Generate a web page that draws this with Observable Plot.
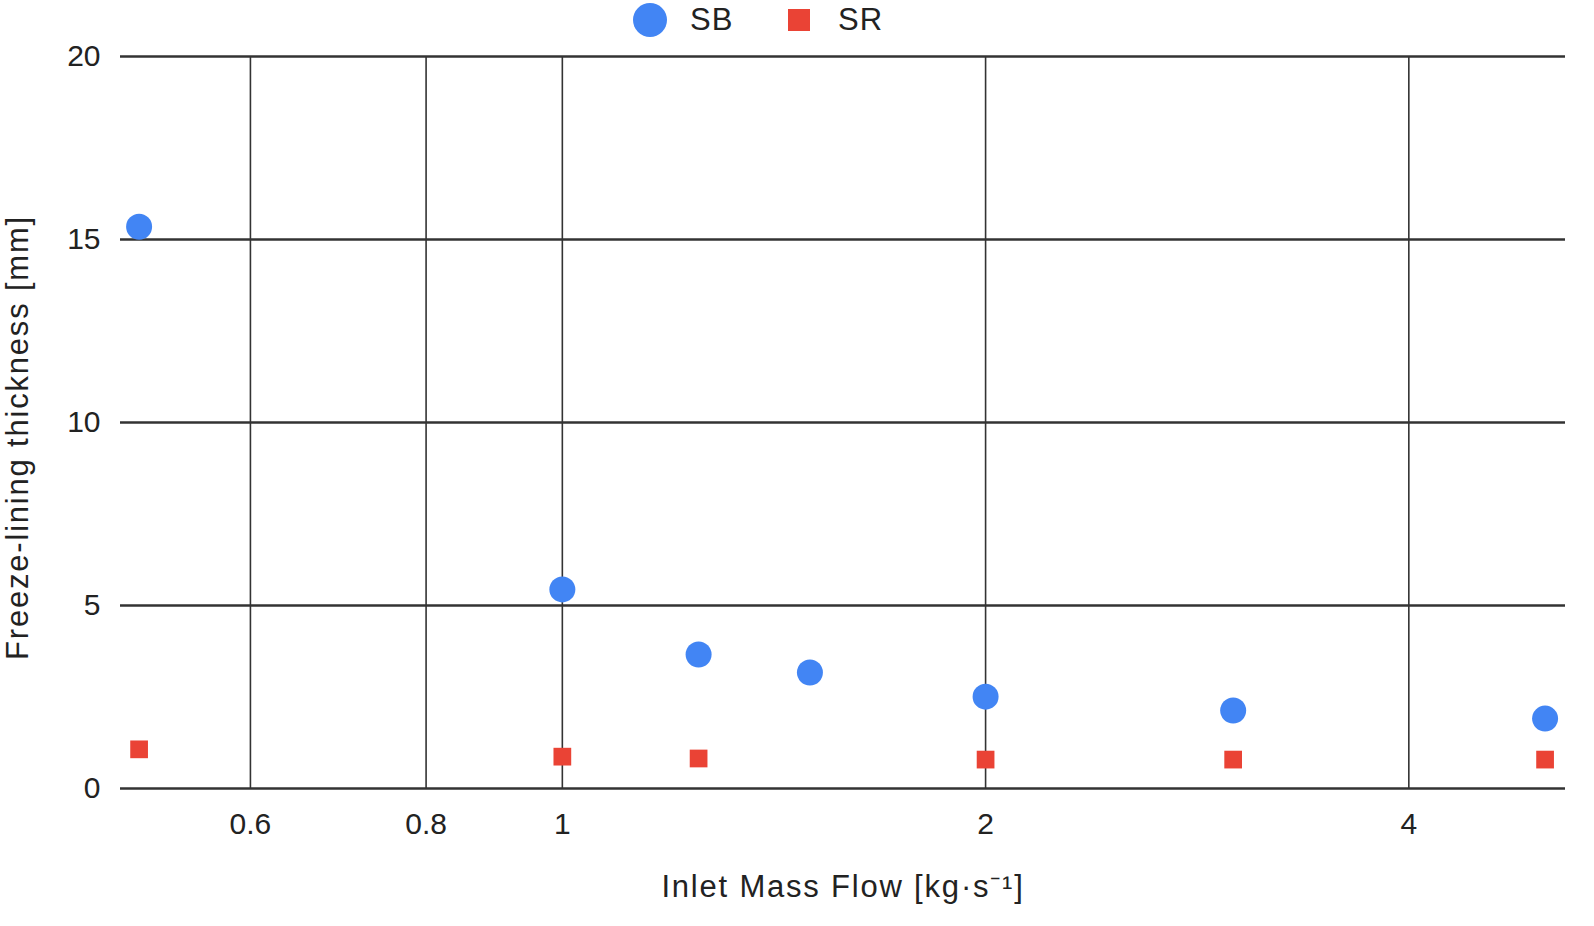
<!DOCTYPE html>
<html>
<head>
<meta charset="utf-8">
<script src="https://cdn.jsdelivr.net/npm/d3@7"></script>
<script src="https://cdn.jsdelivr.net/npm/@observablehq/plot@0.6"></script>
<style>
  html, body { margin: 0; padding: 0; background: #fff; overflow: hidden; font-family: "Liberation Sans", Arial, sans-serif; }
  #legend { height: 40px; position: relative; font-size: 31px; color: #222; letter-spacing: 1px; }
  .item { position: absolute; top: 0; height: 40px; display: flex; align-items: center; }
  .sw { display: inline-block; }
  #chart svg { display: block; }
</style>
</head>
<body>
<div id="legend">
  <div class="item" style="left:633px"><span class="sw" style="width:34px;height:34px;border-radius:50%;background:#4285F4;margin-right:23px"></span>SB</div>
  <div class="item" style="left:788px"><span class="sw" style="width:22px;height:22px;background:#EA4335;margin-right:28px"></span>SR</div>
</div>
<div id="chart"></div>
<script>
const flow = [0.5, 1, 1.25, 1.5, 2, 3, 5];
const sbValues = [15.35, 5.44, 3.66, 3.17, 2.51, 2.13, 1.91];
const srFlow = [0.5, 1, 1.25, 2, 3, 5];
const srValues = [1.07, 0.87, 0.82, 0.79, 0.79, 0.79];
const xTicks = [0.6, 0.8, 1, 2, 4];
const yTicks = [0, 5, 10, 15, 20];
const yTitle = "Freeze-lining thickness [mm]";
const xTitle = "Inlet Mass Flow [kg·s⁻¹]";

const sb = flow.map((x, i) => ({x, y: sbValues[i]}));
const sr = srFlow.map((x, i) => ({x, y: srValues[i]}));

const chart = Plot.plot({
  width: 1594,
  height: 886,
  marginLeft: 120,
  marginRight: 29,
  marginTop: 16,
  marginBottom: 138,
  style: {fontFamily: "'Liberation Sans', Arial, sans-serif", fontSize: "30px", color: "#222", background: "#fff"},
  x: {type: "log", domain: [0.485, 5.17]},
  y: {domain: [0, 20]},
  marks: [
    Plot.ruleX(xTicks, {stroke: "#333", strokeWidth: 1.6}),
    Plot.ruleY(yTicks, {stroke: "#333", strokeWidth: 2.4}),
    Plot.axisY({ticks: yTicks, tickSize: 0, tickPadding: 20, fontSize: 30, label: null}),
    Plot.axisX({ticks: xTicks, tickSize: 0, tickPadding: 24, fontSize: 30, label: null, tickFormat: d => String(d)}),
    Plot.text([yTitle], {frameAnchor: "left", textAnchor: "middle", dx: -102, dy: 15, rotate: -90, fontSize: 31, fill: "#222"}),
    Plot.text([xTitle], {frameAnchor: "bottom", dy: 108, fontSize: 31, fill: "#222"}),
    Plot.dot(sb, {x: "x", y: "y", r: 13, fill: "#4285F4", symbol: "circle"}),
    Plot.dot(sr, {x: "x", y: "y", r: 10, fill: "#EA4335", symbol: "square"})
  ]
});
d3.select(chart).selectAll("text")
  .filter(function() { const t = this.textContent; return t === yTitle || t === xTitle; })
  .style("letter-spacing", "1.8px");
document.getElementById("chart").appendChild(chart);
</script>
</body>
</html>
